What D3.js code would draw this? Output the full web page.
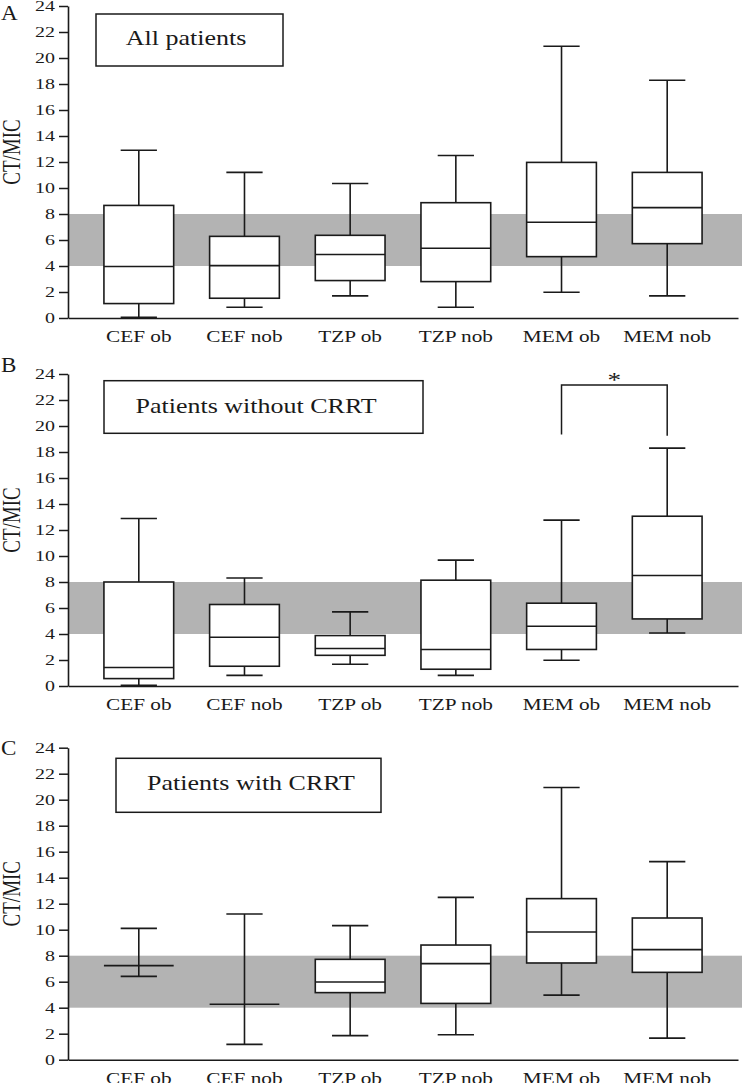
<!DOCTYPE html>
<html>
<head>
<meta charset="utf-8">
<script src="https://d3js.org/d3.v7.min.js"></script>
<style>
  body { margin: 0; background: #fff; }
  text { font-family: "Liberation Serif", "Times New Roman", serif; fill: #1a1a1a; }
</style>
</head>
<body>
<svg></svg>
<script>
    // data
    const categories = ["CEF ob", "CEF nob", "TZP ob", "TZP nob", "MEM ob", "MEM nob"];
    const yTicks = [0, 2, 4, 6, 8, 10, 12, 14, 16, 18, 20, 22, 24];
    const targetBand = [4, 8];
    const panelLetters = ["A", "B", "C"];
    const panelTitles = ["All patients", "Patients without CRRT", "Patients with CRRT"];

    // [min, q1, median, q3, max] per category
    const statsAll = [
        [0.05, 1.11, 3.96, 8.66, 12.9],
        [0.83, 1.52, 4.03, 6.28, 11.2],
        [1.70, 2.88, 4.88, 6.36, 10.35],
        [0.83, 2.80, 5.36, 8.87, 12.5],
        [1.98, 4.72, 7.36, 11.97, 20.9],
        [1.70, 5.72, 8.49, 11.2, 18.29]
    ];
    const statsNoCRRT = [
        [0.05, 0.57, 1.42, 8.0, 12.89],
        [0.82, 1.52, 3.75, 6.27, 8.31],
        [1.67, 2.36, 2.88, 3.88, 5.70],
        [0.82, 1.29, 2.81, 8.14, 9.68],
        [1.98, 2.81, 4.60, 6.37, 12.76],
        [4.08, 5.16, 8.50, 13.06, 18.3]
    ];
    const statsCRRT = [
        [6.41, 7.24, 7.24, 7.24, 10.1],
        [1.18, 4.26, 4.26, 4.26, 11.21],
        [1.85, 5.16, 5.98, 7.72, 10.31],
        [1.92, 4.33, 7.39, 8.82, 12.49],
        [4.97, 7.44, 9.82, 12.39, 20.94],
        [1.66, 6.72, 8.47, 10.9, 15.24]
    ];
    const panelStats = [statsAll, statsNoCRRT, statsCRRT];

    // significance bracket in panel B
    const sigPair = ["MEM ob", "MEM nob"];
    const sigLevels = [19.35, 23.15, 19.25];
    const sigLabel = "*";

    // layout
    const W = 742, H = 1083;
    const axisLeftX = 68, axisRightX = 738, plotH = 312;
    const stretch = 1.33;
    const ink = "#1a1a1a";
    const panelTop = [6, 374, 747.7];
    const letterBaseline = [20, 372, 755];
    const titleBoxes = [
        {x: 96, y: 8, w: 187, h: 52, tx: 186, ty: 39},
        {x: 104, y: 6.7, w: 319, h: 52.6, tx: 256, ty: 38.7},
        {x: 116, y: 10.6, w: 265, h: 54, tx: 251, ty: 42.3}
    ];

    const svg = d3.select("svg")
        .attr("width", W)
        .attr("height", H);

    const x = d3.scaleBand()
        .domain(categories)
        .range([axisLeftX, axisRightX])
        .padding(0.34);
    const bw = x.bandwidth();
    const capHalf = bw * 0.26;

    panelStats.forEach((stats, i) => {
        const top = panelTop[i];
        const y = d3.scaleLinear().domain([0, 24]).range([top + plotH, top]);
        const g = svg.append("g");

        // target band
        g.append("rect")
            .attr("x", axisLeftX)
            .attr("width", W - axisLeftX)
            .attr("y", y(targetBand[1]))
            .attr("height", y(targetBand[0]) - y(targetBand[1]))
            .attr("fill", "#b3b3b3");

        // y axis
        const ya = g.append("g")
            .attr("transform", `translate(${axisLeftX},0)`)
            .call(d3.axisLeft(y).tickValues(yTicks).tickSize(9).tickSizeOuter(0));
        ya.select(".domain").attr("stroke", ink).attr("stroke-width", 1.6);
        ya.selectAll(".tick line").attr("stroke", ink).attr("stroke-width", 1.5);
        ya.selectAll(".tick text")
            .attr("x", 0)
            .attr("font-size", 15)
            .attr("font-family", "Liberation Serif, serif")
            .attr("fill", ink)
            .attr("transform", `translate(-13,0) scale(${stretch},1)`);

        // x axis
        const xa = g.append("g")
            .attr("transform", `translate(0,${y(0)})`)
            .call(d3.axisBottom(x).tickSize(0).tickSizeOuter(0));
        xa.select(".domain").attr("stroke", ink).attr("stroke-width", 1.6);
        xa.selectAll(".tick text")
            .attr("y", 0)
            .attr("dy", null)
            .attr("font-size", 16)
            .attr("font-family", "Liberation Serif, serif")
            .attr("fill", ink)
            .attr("transform", `translate(0,24) scale(${stretch},1)`);

        // y label
        g.append("text")
            .attr("text-anchor", "middle")
            .attr("font-size", 19)
            .attr("transform", `translate(20,${(y(0) + y(24)) / 2 - 10}) rotate(-90) scale(1,${stretch})`)
            .text("CT/MIC");

        // panel letter
        g.append("text")
            .attr("font-size", 21)
            .attr("transform", `translate(1,${letterBaseline[i]}) scale(1.1,1)`)
            .text(panelLetters[i]);

        // title box
        const tb = titleBoxes[i];
        g.append("rect")
            .attr("x", tb.x).attr("y", top + tb.y)
            .attr("width", tb.w).attr("height", tb.h)
            .attr("fill", "#fff")
            .attr("stroke", ink)
            .attr("stroke-width", 1.5);
        g.append("text")
            .attr("text-anchor", "middle")
            .attr("font-size", 20)
            .attr("transform", `translate(${tb.tx},${top + tb.ty}) scale(1.3,1)`)
            .text(panelTitles[i]);

        // boxes
        const bx = g.selectAll(".bx")
            .data(stats.map((d, j) => ({cat: categories[j], min: d[0], q1: d[1], med: d[2], q3: d[3], max: d[4]})))
            .join("g")
            .attr("class", "bx")
            .attr("stroke", ink)
            .attr("stroke-width", 1.6);

        bx.append("line")
            .attr("x1", d => x(d.cat) + bw / 2).attr("x2", d => x(d.cat) + bw / 2)
            .attr("y1", d => y(d.max)).attr("y2", d => y(d.q3));
        bx.append("line")
            .attr("x1", d => x(d.cat) + bw / 2).attr("x2", d => x(d.cat) + bw / 2)
            .attr("y1", d => y(d.q1)).attr("y2", d => y(d.min));
        bx.append("line")
            .attr("x1", d => x(d.cat) + bw / 2 - capHalf).attr("x2", d => x(d.cat) + bw / 2 + capHalf)
            .attr("y1", d => y(d.max)).attr("y2", d => y(d.max));
        bx.append("line")
            .attr("x1", d => x(d.cat) + bw / 2 - capHalf).attr("x2", d => x(d.cat) + bw / 2 + capHalf)
            .attr("y1", d => y(d.min)).attr("y2", d => y(d.min));
        bx.filter(d => d.q3 > d.q1).append("rect")
            .attr("x", d => x(d.cat))
            .attr("y", d => y(d.q3))
            .attr("width", bw)
            .attr("height", d => y(d.q1) - y(d.q3))
            .attr("fill", "#fff");
        bx.append("line")
            .attr("x1", d => x(d.cat)).attr("x2", d => x(d.cat) + bw)
            .attr("y1", d => y(d.med)).attr("y2", d => y(d.med));

        // significance
        if (i === 1) {
            const xa1 = x(sigPair[0]) + bw / 2, xa2 = x(sigPair[1]) + bw / 2;
            g.append("path")
                .attr("d", d3.line()([[xa1, y(sigLevels[0])], [xa1, y(sigLevels[1])], [xa2, y(sigLevels[1])], [xa2, y(sigLevels[2])]]))
                .attr("fill", "none")
                .attr("stroke", ink)
                .attr("stroke-width", 1.5);
            g.append("text")
                .attr("text-anchor", "middle")
                .attr("font-size", 21)
                .attr("transform", `translate(${(xa1 + xa2) / 2},${y(sigLevels[1]) + 2}) scale(1.3,1)`)
                .text(sigLabel);
        }
    });
</script>
</body>
</html>
